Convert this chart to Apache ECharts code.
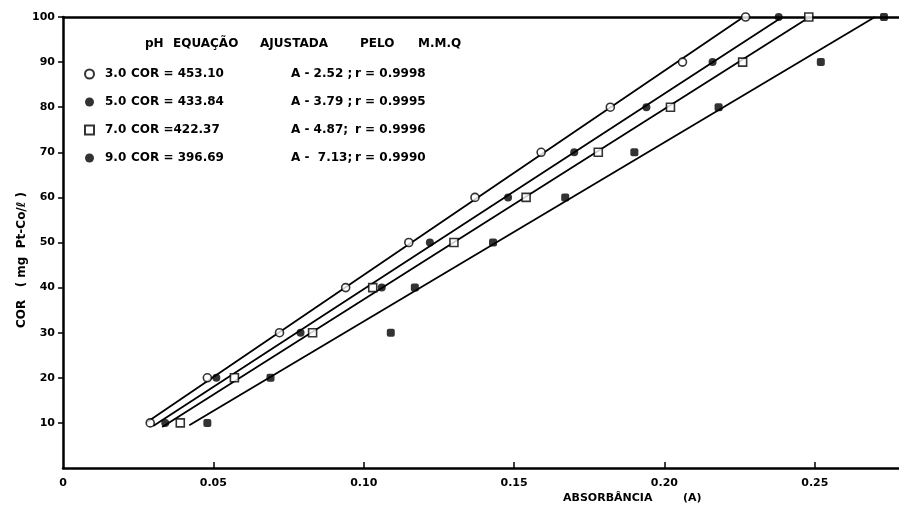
<!DOCTYPE html>
<html><head><meta charset="utf-8">
<script src="https://cdn.jsdelivr.net/npm/echarts@6/dist/echarts.min.js"></script>
<style>html,body{margin:0;padding:0;background:#fff}#c{width:899px;height:509px}</style>
</head><body><div id="c"></div>
<script>
// ---- data ----
const corLevels = [10, 20, 30, 40, 50, 60, 70, 80, 90, 100];
const absPH3 = [0.029, 0.048, 0.072, 0.094, 0.115, 0.137, 0.159, 0.182, 0.206, 0.227];
const absPH5 = [0.034, 0.051, 0.079, 0.106, 0.122, 0.148, 0.170, 0.194, 0.216, 0.238];
const absPH7 = [0.039, 0.057, 0.083, 0.103, 0.130, 0.154, 0.178, 0.202, 0.226, 0.248];
const absPH9 = [0.048, 0.069, 0.109, 0.117, 0.143, 0.167, 0.190, 0.218, 0.252, 0.273];
// fitted straight lines (start / end points as drawn)
const fitPH3 = [[0.028, 10.2], [0.2263, 100]];
const fitPH5 = [[0.030, 9.3], [0.2392, 100]];
const fitPH7 = [[0.033, 9.1], [0.2483, 100]];
const fitPH9 = [[0.042, 9.5], [0.2700, 100]];
const phNames = ['3.0', '5.0', '7.0', '9.0'];
const eqCor = ['COR = 453.10', 'COR = 433.84', 'COR =422.37', 'COR = 396.69'];
const eqA = ['A - 2.52 ;', 'A - 3.79 ;', 'A - 4.87;', 'A -  7.13;'];
const eqR = ['r = 0.9998', 'r = 0.9995', 'r = 0.9996', 'r = 0.9990'];
const headerWords = ['pH', 'EQUAÇÃO', 'AJUSTADA', 'PELO', 'M.M.Q'];
const xTicks = [0, 0.05, 0.10, 0.15, 0.20, 0.25];
const yTicks = [10, 20, 30, 40, 50, 60, 70, 80, 90, 100];
const yName = 'COR   ( mg  Pt-Co/ℓ )';
const xNameWords = ['ABSORBÂNCIA', '(A)'];

const FONT = 'DejaVu Sans';
const pair = (xs) => xs.map((x, i) => [x, corLevels[i]]);
const txt = (size, extra) => Object.assign({fontFamily: FONT, fontSize: size, fontWeight: 'bold', color: '#000'}, extra || {});

const chart = echarts.init(document.getElementById('c'), null, {renderer: 'canvas'});
const lineStyle = {color: '#000', width: 1.8};
const mkLine = (d) => ({type: 'line', data: d, symbol: 'none', lineStyle, z: 2, silent: true});
const mkScatter = (name, d, symbol, filled) => ({
  type: 'scatter', name, data: d, symbol, symbolSize: 8, z: 5,
  itemStyle: {color: filled ? '#000' : '#fff', borderColor: '#000', borderWidth: filled ? 0 : 1.6}
});

const headerRich = {
  w0: txt(12, {width: 28}), w1: txt(12, {width: 87}), w2: txt(12, {width: 100}),
  w3: txt(12, {width: 58}), w4: txt(12)
};
const legendRich = {
  a: txt(12, {width: 26}), b: txt(12, {width: 160}), c: txt(12, {width: 64}), d: txt(12)
};

chart.setOption({
  animation: false,
  backgroundColor: '#fff',
  title: {
    text: headerWords.map((w, i) => '{w' + i + '|' + w + '}').join(''),
    left: 140, top: 33, textStyle: {rich: headerRich}
  },
  legend: {
    orient: 'vertical', left: 79, top: 63, itemWidth: 9, itemHeight: 9, itemGap: 16,
    data: phNames.map((n, i) => ({name: n, icon: i === 2 ? 'rect' : 'circle'})),
    formatter: (name) => {
      const i = phNames.indexOf(name);
      return '{a|' + phNames[i] + '}{b|' + eqCor[i] + '}{c|' + eqA[i] + '}{d|' + eqR[i] + '}';
    },
    textStyle: txt(12, {padding: [0, 0, 0, 6], rich: legendRich}),
    selectedMode: false
  },
  grid: {left: 63, right: 0, top: 17, bottom: 41, containLabel: false},
  xAxis: [{
    type: 'value', min: 0, max: 0.278, interval: 0.05, position: 'bottom',
    axisLine: {lineStyle: {color: '#000', width: 2.5}},
    axisTick: {inside: true, length: 6, lineStyle: {color: '#000', width: 1.5}, customValues: xTicks.slice(1)},
    axisLabel: Object.assign({customValues: xTicks, formatter: v => v === 0 ? '0' : v.toFixed(2), margin: 10}, txt(11)),
    splitLine: {show: false}
  }, {
    type: 'value', min: 0, max: 0.278, position: 'top',
    axisLine: {show: true, onZero: false, lineStyle: {color: '#000', width: 2.5}},
    axisTick: {show: false}, axisLabel: {show: false}, splitLine: {show: false}
  }],
  yAxis: {
    type: 'value', min: 0, max: 100, interval: 10,
    axisLine: {lineStyle: {color: '#000', width: 2.5}},
    axisTick: {length: 5, lineStyle: {color: '#000', width: 1.5}, customValues: yTicks},
    axisLabel: Object.assign({customValues: yTicks, margin: 8}, txt(11)),
    splitLine: {show: false}
  },
  graphic: [{
    type: 'text', x: 22, y: 260, rotation: Math.PI / 2,
    style: {text: yName, fontFamily: FONT, fontSize: 12, fontWeight: 'bold', fill: '#000',
      align: 'center', verticalAlign: 'middle'}
  }, {
    type: 'text', x: 563, y: 498,
    style: {
      text: '{n|' + xNameWords[0] + '}{u|' + xNameWords[1] + '}',
      verticalAlign: 'middle',
      rich: {
        n: {fontFamily: FONT, fontSize: 11, fontWeight: 'bold', fill: '#000', width: 120},
        u: {fontFamily: FONT, fontSize: 11, fontWeight: 'bold', fill: '#000'}
      }
    }
  }],
  series: [
    mkLine(fitPH3), mkLine(fitPH5), mkLine(fitPH7), mkLine(fitPH9),
    mkScatter(phNames[0], pair(absPH3), 'circle', false),
    mkScatter(phNames[1], pair(absPH5), 'circle', true),
    mkScatter(phNames[2], pair(absPH7), 'rect', false),
    mkScatter(phNames[3], pair(absPH9), 'roundRect', true)
  ]
});
</script></body></html>
